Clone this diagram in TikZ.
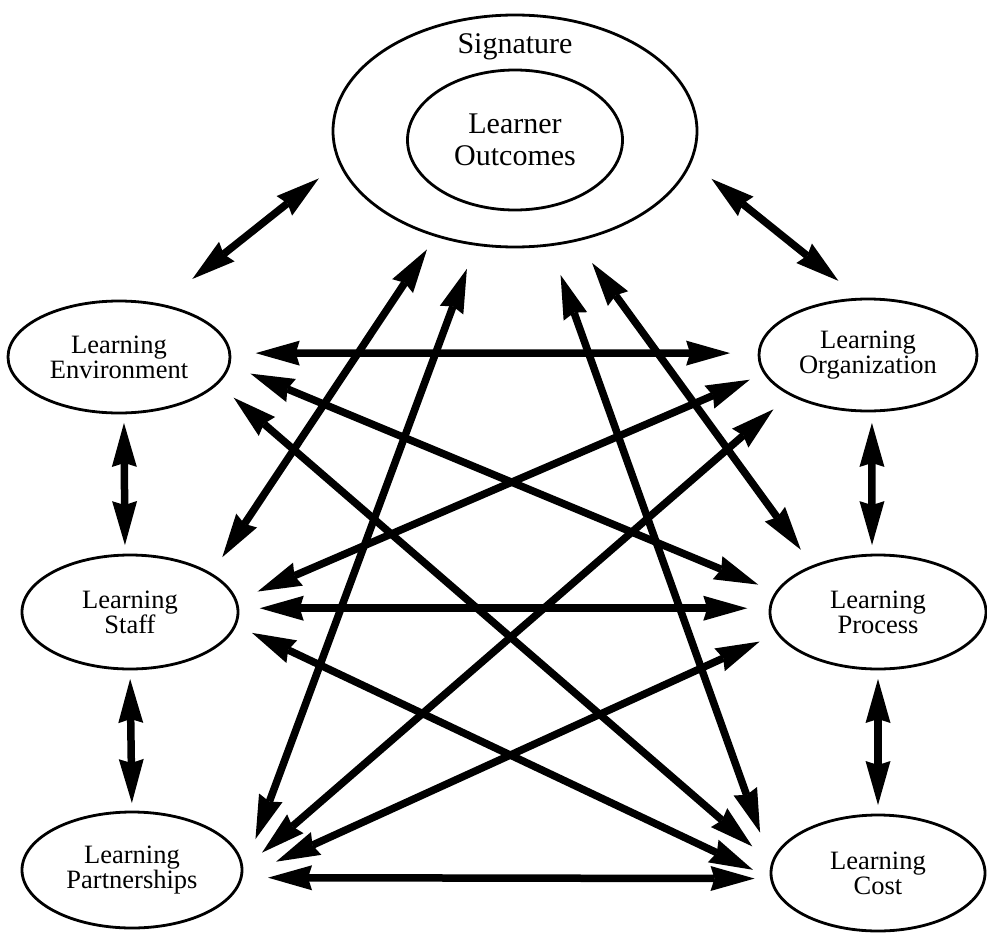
\documentclass[tikz,border=0pt]{standalone}
\usepackage{fontspec}
\setmainfont{Liberation Serif}
\usetikzlibrary{shapes.geometric,arrows.meta}
\tikzset{
  bighead/.tip={Stealth[length=44pt,width=25pt,inset=4pt,line width=0pt]},
}
\begin{document}
\begin{tikzpicture}[x=1pt,y=-1pt,
  oval/.style={draw, line width=2.8pt, ellipse, inner sep=0pt, outer sep=0pt,
    align=center, font=\fontsize{26.5}{25}\selectfont},
  bigtext/.style={font=\fontsize{30}{32}\selectfont, align=center},
  link/.style={line width=7.5pt, {bighead}-{bighead}},
]
\useasboundingbox (0,0) rectangle (987,934);

% central element
\node[oval, minimum width=364pt, minimum height=232pt] (sig) at (515,131) {};
\node[bigtext, anchor=base] (sigtitle) at (515,53) {Signature};
\node[oval, bigtext, minimum width=215pt, minimum height=140pt] (lo) at (515,140) {Learner\\Outcomes};

% left column
\node[oval, minimum width=222pt, minimum height=112pt] (env)   at (119,357) {Learning\\Environment};
\node[oval, minimum width=216pt, minimum height=114pt] (staff) at (130,612) {Learning\\Staff};
\node[oval, minimum width=220pt, minimum height=116pt] (part)  at (132,870) {Learning\\Partnerships};

% right column
\node[oval, minimum width=218pt, minimum height=112pt] (org)  at (868,355) {Learning\\Organization};
\node[oval, minimum width=216pt, minimum height=114pt] (proc) at (878,612) {Learning\\Process};
\node[oval, minimum width=214pt, minimum height=116pt] (cost) at (878,873) {Learning\\Cost};

% horizontal links
\draw[link, shorten <=26pt, shorten >=29pt] (env.2) -- (org.179);
\draw[link, shorten <=22pt, shorten >=23pt] (staff.2) -- (proc.178.4);
\draw[link, shorten <=27pt, shorten >=17pt] (part.-4.7) -- (cost.183.8);

% vertical links
\draw[link, shorten <=10pt, shorten >=10pt] (env.-85) -- (staff.95);
\draw[link, shorten <=10pt, shorten >=9pt] (staff.-90) -- (part.90);
\draw[link, shorten <=12pt, shorten >=10pt] (org.-86) -- (proc.96);
\draw[link, shorten <=10pt, shorten >=10pt] (proc.-90) -- (cost.90);

% links from the central element
\draw[link, shorten <=26.6pt, shorten >=41.7pt] (sig.190.2) -- (env.52.4);
\draw[link, shorten <=27pt, shorten >=29.2pt] (sig.-10.4) -- (org.97.4);
\draw[link, shorten <=16.7pt, shorten >=20.5pt] (sig.233.9) -- (staff.25.3);
\draw[link, shorten <=26.2pt, shorten >=47pt] (sig.251.5) -- (part.-7);
\draw[link, shorten <=28pt, shorten >=20.7pt] (sig.-61) -- (proc.145.5);
\draw[link, shorten <=32pt, shorten >=35pt] (sig.-73.3) -- (cost.176.2);

% crossing links
\draw[link, shorten <=23.3pt, shorten >=20pt] (env.-4.75) -- (proc.169.2);
\draw[link, shorten <=22pt, shorten >=26.5pt] (env.-15.3) -- (cost.175.9);
\draw[link, shorten <=23.6pt, shorten >=16.5pt] (staff.6.9) -- (org.190.2);
\draw[link, shorten <=18.6pt, shorten >=20.5pt] (staff.-7) -- (cost.183.1);
\draw[link, shorten <=26.6pt, shorten >=22.7pt] (part.-0.2) -- (org.207.9);
\draw[link, shorten <=38.5pt, shorten >=20pt] (part.-4.1) -- (proc.192.3);
\end{tikzpicture}
\end{document}
